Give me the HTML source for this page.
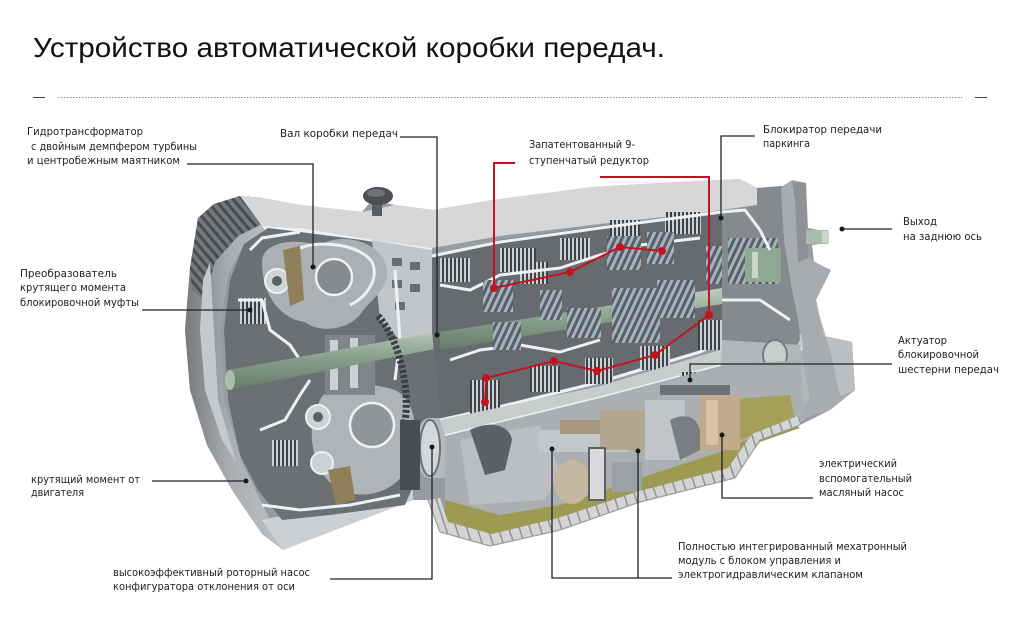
<!DOCTYPE html>
<html><head><meta charset="utf-8">
<style>
html,body{margin:0;padding:0;background:#fff;}
svg{display:block;}
.l{font-family:"DejaVu Sans","Liberation Sans",sans-serif;font-size:11px;fill:#1e1e1e;}
.ld{stroke:#222;stroke-width:1.3;fill:none;}
.rd{stroke:#c41222;stroke-width:2;fill:none;}
.w{stroke:#eef0f1;stroke-width:3;fill:none;stroke-linejoin:round;}
</style></head><body>
<svg width="1022" height="623" viewBox="0 0 1022 623" xmlns="http://www.w3.org/2000/svg">
<defs>
<pattern id="gear" width="6" height="6" patternUnits="userSpaceOnUse" patternTransform="rotate(25)">
<rect width="6" height="6" fill="#56606a"/><rect width="3" height="6" fill="#a6b3bc"/>
</pattern>
<pattern id="fins" width="4" height="10" patternUnits="userSpaceOnUse">
<rect width="4" height="10" fill="#3e4245"/><rect width="2" height="10" fill="#ced1d4"/>
</pattern>
<pattern id="corr" width="10" height="20" patternUnits="userSpaceOnUse" patternTransform="rotate(-18)">
<rect width="10" height="20" fill="#d2d4d5"/><rect width="1.4" height="20" fill="#8b8f92"/>
</pattern>
<pattern id="ribs" width="7" height="7" patternUnits="userSpaceOnUse" patternTransform="rotate(-40)">
<rect width="7" height="7" fill="#74787c"/><rect width="3" height="7" fill="#484c4f"/>
</pattern>
<linearGradient id="bell" x1="0" y1="0" x2="1" y2="0">
<stop offset="0" stop-color="#767a7e"/><stop offset="0.45" stop-color="#a9adb1"/><stop offset="1" stop-color="#bec2c5"/>
</linearGradient>
<linearGradient id="shaft" x1="0" y1="0" x2="0" y2="1">
<stop offset="0" stop-color="#bccfbe"/><stop offset="0.5" stop-color="#86a08a"/><stop offset="1" stop-color="#657b69"/>
</linearGradient>
</defs>

<!-- Title -->
<text x="33" y="57" font-family="Liberation Sans, sans-serif" font-size="28" textLength="632" lengthAdjust="spacingAndGlyphs" fill="#111">Устройство автоматической коробки передач.</text>
<line x1="33" y1="97.5" x2="45" y2="97.5" stroke="#444" stroke-width="1"/>
<line x1="58" y1="97.5" x2="962" y2="97.5" stroke="#888" stroke-width="1" stroke-dasharray="1.5 1.5"/>
<line x1="975" y1="97.5" x2="987" y2="97.5" stroke="#444" stroke-width="1"/>

<!-- Main silhouette -->
<path d="M198,218 L214,204 L240,196 L262,198 L300,205 L362,212 L372,200 L395,205 L433,210 L493,200 L593,187 L660,183 L740,179 L757,188 L783,186 L792,180 L806,183 L808,228 L828,232 L829,243 L812,245 L814,262 L831,270 L816,300 L824,336 L852,342 L855,390 L830,410 L800,425 L760,440 L735,478 L640,502 L560,530 L490,546 L440,532 L428,500 L413,500 L283,550 L262,534 L232,490 L207,445 L190,390 L185,330 L190,268 Z" fill="#989ca0"/>

<!-- Bell housing outer -->
<path d="M198,218 L214,204 L240,196 L262,198 L268,228 L244,244 L228,275 L220,330 L224,400 L242,462 L270,520 L283,550 L262,534 L232,490 L207,445 L190,390 L185,330 L190,268 Z" fill="url(#bell)"/>
<path d="M198,218 L214,204 L240,196 L262,198 L266,222 L238,236 L215,262 L204,300 L192,290 L190,268 Z" fill="url(#ribs)"/>
<path d="M210,262 L214,330 L218,400 L236,462 L222,440 L205,390 L200,330 L203,280 Z" fill="#c6c9cc"/>
<path d="M262,520 L413,488 L413,500 L283,550 Z" fill="#cdd0d2"/>
<!-- top surface -->
<path d="M240,196 L262,198 L300,205 L362,212 L395,205 L433,210 L493,200 L593,187 L660,183 L740,179 L757,188 L757,205 L700,213 L600,224 L500,236 L432,248 L362,238 L300,228 L262,226 Z" fill="#d5d7d8"/>
<path d="M262,226 L300,228 L362,238 L432,248 L432,256 L362,248 L270,238 Z" fill="#eef0f1"/>
<!-- knob -->
<rect x="372" y="200" width="10" height="16" fill="#5a5e62"/>
<ellipse cx="378" cy="196" rx="15" ry="9" fill="#4b4f53"/>
<ellipse cx="376" cy="193" rx="9" ry="4" fill="#6d7175"/>

<!-- Torque converter interior -->
<path d="M244,244 L268,228 L300,232 L362,240 L420,250 L432,256 L432,330 L440,420 L420,470 L405,505 L330,515 L282,520 L258,490 L240,455 L228,400 L224,330 L230,280 Z" fill="#6c7074"/>
<!-- light ribbed housing between TC and gears -->
<path d="M372,240 L432,250 L432,335 L400,340 L380,320 Z" fill="#c3c6c8"/>
<rect x="392" y="258" width="10" height="8" fill="#6a6e72"/>
<rect x="410" y="262" width="10" height="8" fill="#6a6e72"/>
<rect x="392" y="280" width="10" height="8" fill="#6a6e72"/>
<rect x="410" y="284" width="10" height="8" fill="#6a6e72"/>
<rect x="395" y="302" width="10" height="8" fill="#6a6e72"/>
<!-- upper bulb -->
<path d="M262,262 C262,240 300,238 318,246 C340,232 375,240 385,262 C395,285 370,300 362,312 C350,330 320,334 305,322 C285,320 262,300 262,262 Z" fill="#acb0b4"/>
<path d="M300,248 C320,240 360,244 372,262 C380,280 365,298 350,305" class="w"/>
<circle cx="334" cy="277" r="18" fill="#868b90" stroke="#eef0f1" stroke-width="2.5"/>
<circle cx="277" cy="281" r="12" fill="#d0d3d5" stroke="#eef0f1" stroke-width="2"/>
<circle cx="277" cy="281" r="5" fill="#5c6064"/>
<path d="M283,250 L300,246 L304,300 L290,306 Z" fill="#8f7f5a"/>
<!-- lower bulb -->
<path d="M320,400 C330,380 370,382 395,390 C415,400 420,430 410,460 C400,495 360,500 340,490 C320,480 300,440 320,400 Z" fill="#b0b4b8"/>
<circle cx="372" cy="425" r="22" fill="#90959a" stroke="#eef0f1" stroke-width="2.5"/>
<circle cx="318" cy="417" r="12" fill="#cfd2d4" stroke="#eef0f1" stroke-width="2"/>
<circle cx="318" cy="417" r="5" fill="#5c6064"/>
<circle cx="322" cy="463" r="11" fill="#cfd2d4" stroke="#eef0f1" stroke-width="2"/>
<path d="M328,470 L350,466 L355,500 L336,505 Z" fill="#8f7f5a"/>
<!-- clutch packs in TC -->
<rect x="240" y="298" width="26" height="26" fill="url(#fins)"/>
<rect x="272" y="440" width="26" height="26" fill="url(#fins)"/>
<!-- white walls in TC -->
<path d="M250,250 L262,238 L300,232" class="w"/>
<path d="M238,300 L262,300 L270,330 L290,345 L300,360" class="w"/>
<path d="M260,430 L285,420 L300,395 L310,380" class="w"/>
<path d="M262,505 L300,510 L350,505 L400,495" class="w"/>
<path d="M395,270 L400,340 L395,380" class="w"/>
<!-- turbine hub -->
<rect x="325" y="335" width="50" height="60" fill="#80858a"/>
<rect x="330" y="340" width="8" height="50" fill="#cdd0d3"/>
<rect x="350" y="338" width="8" height="50" fill="#cdd0d3"/>
<!-- main input shaft -->
<path d="M228,370 L470,326 L470,342 L228,390 Z" fill="url(#shaft)"/>
<ellipse cx="230" cy="380" rx="5" ry="10" fill="#a7c0ab"/>
<!-- chain -->
<path d="M378,316 C400,340 410,390 405,420 C402,445 410,465 414,480" stroke="#3c3f42" stroke-width="7" fill="none" stroke-dasharray="3 2"/>
<!-- rotary pump -->
<rect x="420" y="418" width="42" height="60" rx="10" fill="#b6babd"/>
<ellipse cx="430" cy="448" rx="10" ry="28" fill="#d5d8da" stroke="#6f7377" stroke-width="2"/>
<rect x="400" y="420" width="20" height="70" fill="#4a4e52"/>

<!-- Gear section -->
<path d="M432,256 L500,240 L600,226 L700,214 L722,212 L722,330 L700,350 L600,380 L520,400 L440,420 L432,330 Z" fill="#676b6f"/>
<rect x="440" y="258" width="30" height="24" fill="url(#fins)"/>
<rect x="500" y="248" width="36" height="24" fill="url(#fins)"/>
<rect x="560" y="238" width="30" height="22" fill="url(#fins)"/>
<rect x="610" y="220" width="30" height="20" fill="url(#fins)"/>
<rect x="665" y="212" width="36" height="22" fill="url(#fins)"/>
<rect x="520" y="262" width="28" height="22" fill="url(#fins)"/>
<path d="M432,256 L500,242 L600,228 L722,212" class="w"/>
<path d="M440,285 L470,290 L500,275 L560,268 L600,255 L640,245 L700,238" class="w"/>
<path d="M440,420 L520,402 L600,382 L700,352 L722,340" class="w"/>
<path d="M450,360 L480,350 L520,345 L560,352 L600,340" class="w"/>
<!-- main shaft -->
<path d="M440,332 L722,288 L722,304 L440,350 Z" fill="url(#shaft)"/>
<!-- gears -->
<rect x="483" y="280" width="30" height="32" fill="url(#gear)"/>
<rect x="493" y="322" width="28" height="28" fill="url(#gear)"/>
<rect x="567" y="308" width="34" height="30" fill="url(#gear)"/>
<rect x="607" y="236" width="34" height="34" fill="url(#gear)"/>
<rect x="647" y="232" width="27" height="32" fill="url(#gear)"/>
<rect x="612" y="288" width="48" height="55" fill="url(#gear)"/>
<rect x="657" y="280" width="38" height="38" fill="url(#gear)"/>
<rect x="540" y="290" width="22" height="30" fill="url(#gear)"/>
<rect x="706" y="246" width="26" height="38" fill="url(#gear)"/>
<!-- lower clutch packs -->
<rect x="470" y="380" width="30" height="30" fill="url(#fins)"/>
<rect x="530" y="366" width="30" height="26" fill="url(#fins)"/>
<rect x="585" y="358" width="28" height="26" fill="url(#fins)"/>
<rect x="640" y="346" width="30" height="24" fill="url(#fins)"/>
<rect x="698" y="320" width="26" height="30" fill="url(#fins)"/>
<rect x="470" y="404" width="26" height="26" fill="url(#fins)"/>
<!-- lower housing band -->
<path d="M440,420 L600,386 L720,350 L820,330 L822,345 L720,366 L600,398 L445,436 Z" fill="#c9cccd"/>
<path d="M445,436 L600,398 L720,366 L822,345" class="w"/>

<!-- Right section -->
<path d="M722,212 L757,205 L757,188 L783,186 L790,240 L800,340 L790,360 L722,340 Z" fill="#868a8e"/>
<rect x="728" y="238" width="50" height="46" fill="url(#gear)"/>
<rect x="745" y="248" width="36" height="34" fill="#8fa893"/>
<rect x="752" y="252" width="6" height="26" fill="#c7d6c9"/>
<path d="M722,212 L745,210 L760,230 L770,250" class="w"/>
<path d="M722,300 L760,300 L790,320" class="w"/>
<!-- flange bracket -->
<path d="M781,188 L792,180 L806,183 L808,258 L830,270 L816,300 L824,336 L852,342 L855,390 L830,410 L805,418 L795,395 L803,345 L792,290 L784,240 Z" fill="#a9acaf"/>
<path d="M792,182 L806,183 L808,258 L798,262 L795,200 Z" fill="#8e9296"/>
<path d="M815,300 L824,336 L852,342 L855,390 L840,396 L830,350 Z" fill="#bcbfc1"/>
<rect x="806" y="230" width="22" height="14" fill="#a9bba9"/>
<rect x="822" y="231" width="7" height="12" fill="#c8d5c8"/>
<!-- right lower parts -->
<path d="M722,340 L800,345 L810,400 L790,420 L740,430 L720,400 Z" fill="#b4b7b9"/>
<ellipse cx="775" cy="355" rx="12" ry="15" fill="#c9cccd" stroke="#777b7f" stroke-width="2"/>
<rect x="680" y="372" width="40" height="22" fill="url(#fins)"/>

<!-- Mechatronic area -->
<path d="M445,436 L600,398 L720,366 L800,360 L805,420 L760,440 L735,470 L640,495 L560,520 L490,535 L445,520 Z" fill="#acafb1"/>
<path d="M445,500 L500,515 L560,505 L640,478 L720,452 L790,420 L800,428 L760,442 L735,474 L640,498 L560,524 L490,538 L445,522 Z" fill="#9e9a52"/>
<path d="M720,400 L790,395 L795,420 L740,440 Z" fill="#a4a05a"/>
<path d="M460,440 L540,425 L560,470 L545,500 L470,505 Z" fill="#bcbfc1"/>
<path d="M470,430 C490,420 510,425 512,440 L505,470 L485,475 Z" fill="#5d6165"/>
<rect x="538" y="430" width="90" height="22" fill="#c4c7c9"/>
<rect x="560" y="420" width="50" height="14" fill="#a7987f"/>
<rect x="600" y="410" width="60" height="40" fill="#b2a690"/>
<rect x="645" y="400" width="40" height="60" fill="#c2c5c7"/>
<ellipse cx="572" cy="482" rx="18" ry="22" fill="#c5b8a3"/>
<rect x="589" y="448" width="16" height="52" fill="#d8dadb" stroke="#5c6064" stroke-width="2"/>
<rect x="612" y="462" width="30" height="30" fill="#9ea1a4"/>
<path d="M670,420 C690,410 705,420 700,450 L680,460 Z" fill="#7a7e82"/>
<rect x="700" y="395" width="40" height="55" fill="#c1ab8c"/>
<rect x="706" y="400" width="12" height="45" fill="#d7c4a8"/>
<rect x="660" y="385" width="70" height="10" fill="#6d7175"/>
<!-- pan rim -->
<path d="M428,500 L440,532 L490,546 L560,530 L640,502 L735,478 L760,440 L800,425 L800,415 L752,434 L728,468 L636,492 L558,518 L492,534 L448,522 L440,498 Z" fill="url(#corr)"/>
<path d="M428,500 L440,532 L490,546 L560,530 L640,502 L735,478 L760,440 L800,425" stroke="#9a9ea1" stroke-width="1.2" fill="none"/>

<!-- Red path: 9-speed -->
<polyline class="rd" points="515,163 494,163 494,288 570,272 620,247 662,251"/>
<polyline class="rd" points="600,177 709,177 709,315 655,355 597,371 554,361 486,378 485,402"/>
<g fill="#c41222">
<circle cx="494" cy="288" r="4"/><circle cx="570" cy="272" r="4"/><circle cx="620" cy="247" r="4"/><circle cx="662" cy="251" r="4"/>
<circle cx="709" cy="315" r="4"/><circle cx="655" cy="355" r="4"/><circle cx="597" cy="371" r="4"/><circle cx="554" cy="361" r="4"/><circle cx="486" cy="378" r="4"/><circle cx="485" cy="402" r="4"/>
</g>

<!-- Leader lines -->
<polyline class="ld" points="187,164 313,164 313,267"/>
<polyline class="ld" points="400,137 437,137 437,335"/>
<polyline class="ld" points="755,136 721,136 721,218"/>
<polyline class="ld" points="842,229 892,229"/>
<polyline class="ld" points="892,364 690,364 690,380"/>
<polyline class="ld" points="142,310 250,310"/>
<polyline class="ld" points="152,481 246,481"/>
<polyline class="ld" points="330,579 432,579 432,447"/>
<polyline class="ld" points="813,498 722,498 722,435"/>
<polyline class="ld" points="672,578 552,578 552,449"/>
<polyline class="ld" points="638,578 638,451"/>
<g fill="#1a1a1a">
<circle cx="313" cy="267" r="2.5"/><circle cx="437" cy="335" r="2.5"/><circle cx="721" cy="218" r="2.5"/><circle cx="842" cy="229" r="2.5"/>
<circle cx="690" cy="380" r="2.5"/><circle cx="250" cy="310" r="2.5"/><circle cx="246" cy="481" r="2.5"/><circle cx="432" cy="447" r="2.5"/>
<circle cx="722" cy="435" r="2.5"/><circle cx="552" cy="449" r="2.5"/><circle cx="638" cy="451" r="2.5"/>
</g>

<!-- Labels -->
<text class="l" x="27" y="135" textLength="116" lengthAdjust="spacingAndGlyphs">Гидротрансформатор</text>
<text class="l" x="31" y="150" textLength="166" lengthAdjust="spacingAndGlyphs">с двойным демпфером турбины</text>
<text class="l" x="27" y="164" textLength="153" lengthAdjust="spacingAndGlyphs">и центробежным маятником</text>
<text class="l" x="280" y="137" textLength="118" lengthAdjust="spacingAndGlyphs">Вал коробки передач</text>
<text class="l" x="529" y="148" textLength="106" lengthAdjust="spacingAndGlyphs">Запатентованный 9-</text>
<text class="l" x="529" y="164" textLength="120" lengthAdjust="spacingAndGlyphs">ступенчатый редуктор</text>
<text class="l" x="763" y="133" textLength="119" lengthAdjust="spacingAndGlyphs">Блокиратор передачи</text>
<text class="l" x="763" y="147" textLength="47" lengthAdjust="spacingAndGlyphs">паркинга</text>
<text class="l" x="903" y="225" textLength="34" lengthAdjust="spacingAndGlyphs">Выход</text>
<text class="l" x="903" y="240" textLength="79" lengthAdjust="spacingAndGlyphs">на заднюю ось</text>
<text class="l" x="898" y="344" textLength="49" lengthAdjust="spacingAndGlyphs">Актуатор</text>
<text class="l" x="898" y="358" textLength="81" lengthAdjust="spacingAndGlyphs">блокировочной</text>
<text class="l" x="898" y="373" textLength="101" lengthAdjust="spacingAndGlyphs">шестерни передач</text>
<text class="l" x="20" y="277" textLength="97" lengthAdjust="spacingAndGlyphs">Преобразователь</text>
<text class="l" x="20" y="291" textLength="106" lengthAdjust="spacingAndGlyphs">крутящего момента</text>
<text class="l" x="20" y="306" textLength="119" lengthAdjust="spacingAndGlyphs">блокировочной муфты</text>
<text class="l" x="31" y="483" textLength="109" lengthAdjust="spacingAndGlyphs">крутящий момент от</text>
<text class="l" x="31" y="496" textLength="53" lengthAdjust="spacingAndGlyphs">двигателя</text>
<text class="l" x="113" y="576" textLength="197" lengthAdjust="spacingAndGlyphs">высокоэффективный роторный насос</text>
<text class="l" x="113" y="590" textLength="182" lengthAdjust="spacingAndGlyphs">конфигуратора отклонения от оси</text>
<text class="l" x="819" y="467" textLength="78" lengthAdjust="spacingAndGlyphs">электрический</text>
<text class="l" x="819" y="482" textLength="93" lengthAdjust="spacingAndGlyphs">вспомогательный</text>
<text class="l" x="819" y="496" textLength="85" lengthAdjust="spacingAndGlyphs">масляный насос</text>
<text class="l" x="678" y="550" textLength="229" lengthAdjust="spacingAndGlyphs">Полностью интегрированный мехатронный</text>
<text class="l" x="678" y="564" textLength="163" lengthAdjust="spacingAndGlyphs">модуль с блоком управления и</text>
<text class="l" x="678" y="578" textLength="185" lengthAdjust="spacingAndGlyphs">электрогидравлическим клапаном</text>
</svg>
</body></html>
